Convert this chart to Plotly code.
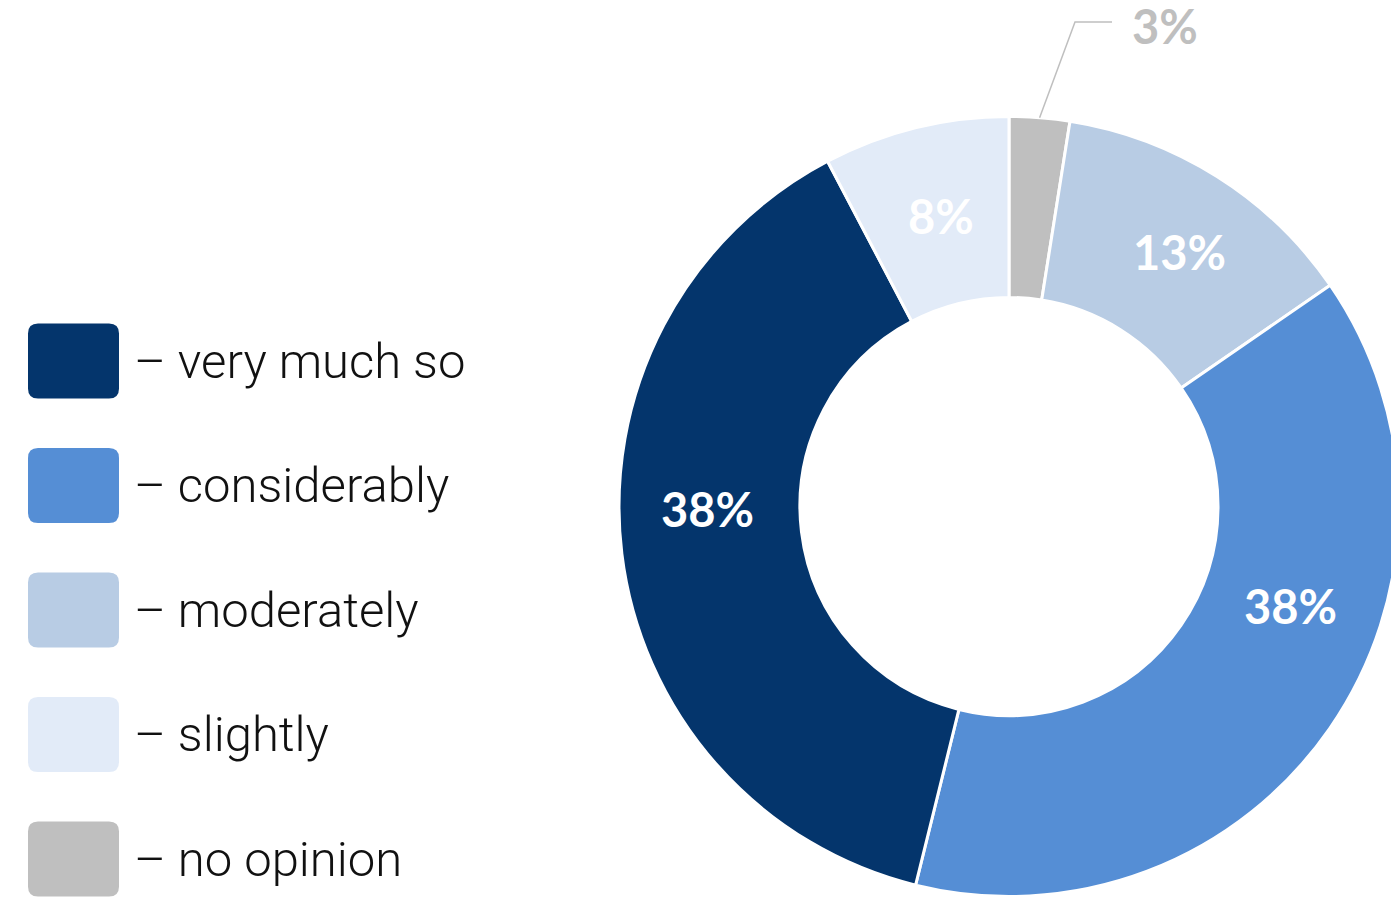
import math
import plotly.graph_objects as go

# page body has an 8px margin, so the figure is drawn 8px in from the corner
OX, OY = 8, 8
W, H = 1399, 899

# shares in %, clockwise from 12 o'clock
categories = ["no opinion", "moderately", "considerably", "very much so", "slightly"]
shares = [2.5, 12.9, 38.45, 38.45, 7.7]
pct_labels = ["3%", "13%", "38%", "38%", "8%"]
colors = ["#BFBFBF", "#B8CCE4", "#558ED5", "#04356C", "#E2EBF8"]

legend_order = ["very much so", "considerably", "moderately", "slightly", "no opinion"]

# where the percentage labels sit (screen pixels), same order as categories
label_pos = [(1165, 26), (1179, 252), (1290, 606), (707, 509), (941, 216)]


def px_x(x):
    return (x - OX) / W


def px_y(y):
    return 1 - (y - OY) / H


def rounded_rect(x0, y0, x1, y1, r):
    # screen pixel coords in, paper coords out
    rx, ry = r / W, r / H
    X0, X1 = px_x(x0), px_x(x1)
    Y0, Y1 = px_y(y0), px_y(y1)  # Y0 is top
    return (f"M {X0 + rx},{Y0} L {X1 - rx},{Y0} Q {X1},{Y0} {X1},{Y0 - ry} "
            f"L {X1},{Y1 + ry} Q {X1},{Y1} {X1 - rx},{Y1} "
            f"L {X0 + rx},{Y1} Q {X0},{Y1} {X0},{Y1 + ry} "
            f"L {X0},{Y0 - ry} Q {X0},{Y0} {X0 + rx},{Y0} Z")


# donut geometry (screen pixels)
cx, cy, R = 1009, 506.5, 390

fig = go.Figure()
fig.add_trace(go.Pie(
    values=shares,
    labels=categories,
    textinfo="none",
    sort=False,
    direction="clockwise",
    rotation=0,
    hole=0.536,
    marker=dict(colors=colors, line=dict(color="white", width=3)),
    domain=dict(x=[px_x(cx - R), min(px_x(cx + R), 1.0)],
                y=[px_y(cy + R), px_y(cy - R)]),
    showlegend=False,
    hoverinfo="label+percent",
))

shapes = []
annotations = []

# legend swatches + labels
color_of = dict(zip(categories, colors))
for i, name in enumerate(legend_order):
    yc = 361 + i * 124.5
    shapes.append(dict(
        type="path", xref="paper", yref="paper",
        path=rounded_rect(28, yc - 37.5, 119, yc + 37.5, 10),
        fillcolor=color_of[name], line=dict(width=0),
    ))
    annotations.append(dict(
        xref="paper", yref="paper", x=px_x(132), y=px_y(yc),
        xanchor="left", yanchor="middle", showarrow=False,
        text="\u2013 " + name,
        font=dict(family="Roboto", size=49, color="#111111", weight=300),
    ))

# percentage labels
for i, (lx, ly) in enumerate(label_pos):
    annotations.append(dict(
        xref="paper", yref="paper", x=px_x(lx), y=px_y(ly),
        xanchor="center", yanchor="middle", showarrow=False,
        text="<b>" + pct_labels[i] + "</b>",
        font=dict(family="Lato", size=47,
                  color=colors[0] if i == 0 else "white"),
    ))

# leader line for the small "no opinion" slice
total = sum(shares)
theta = math.radians(shares[0] / 2 / total * 360)
sx, sy = cx + R * math.sin(theta), cy - R * math.cos(theta)
shapes.append(dict(
    type="path", xref="paper", yref="paper",
    path=(f"M {px_x(sx)},{px_y(sy)} L {px_x(1075)},{px_y(22)} "
          f"L {px_x(1112)},{px_y(22)}"),
    line=dict(color="#BFBFBF", width=1.5),
))

fig.update_layout(
    width=W, height=H,
    margin=dict(l=0, r=0, t=0, b=0),
    paper_bgcolor="white",
    plot_bgcolor="white",
    shapes=shapes,
    annotations=annotations,
)

fig.write_html("out.html")
